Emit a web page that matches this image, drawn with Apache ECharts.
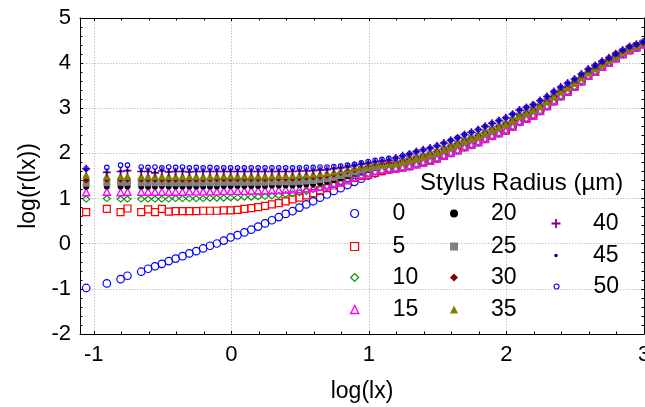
<!DOCTYPE html>
<html><head><meta charset="utf-8">
<script src="https://cdn.jsdelivr.net/npm/echarts@6/dist/echarts.min.js"></script>
<style>html,body{margin:0;padding:0;background:#fff}#c{width:645px;height:407px}</style>
</head><body><div id="c"></div>
<script>
// x values: log(lx)
const logLx = [-1.055,-0.905,-0.805,-0.755,-0.655,-0.605,-0.555,-0.505,-0.455,-0.405,-0.355,-0.305,-0.255,-0.205,-0.155,-0.105,-0.055,-0.005,0.045,0.095,0.145,0.195,0.245,0.295,0.345,0.395,0.445,0.495,0.545,0.595,0.645,0.695,0.745,0.795,0.845,0.895,0.945,0.995,1.045,1.095,1.145,1.195,1.245,1.295,1.345,1.395,1.445,1.495,1.545,1.595,1.645,1.695,1.745,1.795,1.845,1.895,1.945,1.995,2.045,2.095,2.145,2.195,2.245,2.295,2.345,2.395,2.445,2.495,2.545,2.595,2.645,2.695,2.745,2.795,2.845,2.895,2.945,2.995];

const radii = ['0','5','10','15','20','25','30','35','40','45','50'];

// log(r(lx)) for lx up to 1.145, per stylus radius
const r0  = [-0.98,-0.88,-0.785,-0.71,-0.62,-0.555,-0.50,-0.445,-0.385,-0.33,-0.275,-0.215,-0.165,-0.105,-0.045,0.005,0.07,0.14,0.19,0.25,0.31,0.38,0.45,0.52,0.59,0.66,0.72,0.80,0.87,0.94,1.02,1.09,1.17,1.23,1.30,1.37,1.44,1.51,1.56,1.61,1.65];
const r5  = [0.70,0.77,0.70,0.78,0.70,0.76,0.70,0.77,0.71,0.72,0.72,0.72,0.72,0.73,0.73,0.73,0.74,0.74,0.75,0.77,0.79,0.81,0.84,0.87,0.90,0.94,0.98,1.02,1.07,1.12,1.18,1.23,1.29,1.35,1.40,1.46,1.50,1.53,1.57,1.61,1.64];
const r10 = [0.99,1.00,0.99,0.99,0.99,0.99,0.99,0.99,0.99,1.00,1.00,1.00,1.00,1.00,1.01,1.01,1.01,1.02,1.02,1.03,1.03,1.04,1.05,1.06,1.07,1.09,1.11,1.13,1.16,1.20,1.24,1.28,1.32,1.37,1.42,1.46,1.51,1.55,1.59,1.62,1.65];
const r15 = [1.14,1.15,1.14,1.15,1.15,1.15,1.15,1.15,1.15,1.15,1.15,1.16,1.16,1.16,1.16,1.16,1.17,1.17,1.17,1.17,1.18,1.18,1.18,1.19,1.19,1.20,1.20,1.21,1.22,1.24,1.26,1.29,1.33,1.37,1.42,1.47,1.52,1.57,1.61,1.64,1.66];
const r20 = [1.26,1.27,1.27,1.27,1.27,1.26,1.27,1.28,1.27,1.27,1.27,1.27,1.27,1.27,1.27,1.27,1.28,1.28,1.28,1.28,1.28,1.28,1.28,1.29,1.29,1.29,1.29,1.30,1.31,1.32,1.34,1.37,1.41,1.45,1.50,1.55,1.60,1.64,1.68,1.72,1.75];
const r25 = [1.34,1.35,1.36,1.36,1.35,1.35,1.35,1.35,1.35,1.35,1.35,1.35,1.35,1.35,1.35,1.35,1.36,1.36,1.36,1.36,1.36,1.36,1.36,1.37,1.37,1.37,1.37,1.38,1.39,1.40,1.42,1.44,1.47,1.51,1.55,1.59,1.63,1.67,1.70,1.73,1.76];
const r30 = [1.41,1.43,1.43,1.43,1.43,1.43,1.43,1.43,1.42,1.43,1.43,1.43,1.43,1.43,1.44,1.44,1.44,1.44,1.44,1.44,1.44,1.44,1.44,1.45,1.45,1.45,1.45,1.46,1.47,1.48,1.49,1.51,1.54,1.57,1.61,1.64,1.68,1.71,1.74,1.76,1.78];
const r35 = [1.53,1.50,1.50,1.50,1.50,1.50,1.50,1.50,1.50,1.50,1.50,1.50,1.50,1.50,1.50,1.51,1.51,1.51,1.51,1.51,1.51,1.51,1.51,1.51,1.52,1.52,1.52,1.53,1.54,1.55,1.56,1.58,1.60,1.63,1.66,1.69,1.71,1.73,1.75,1.76,1.77];
const r40 = [1.66,1.58,1.60,1.62,1.60,1.60,1.57,1.61,1.59,1.60,1.60,1.59,1.60,1.60,1.60,1.60,1.60,1.60,1.60,1.60,1.60,1.60,1.60,1.60,1.60,1.60,1.60,1.61,1.61,1.62,1.63,1.64,1.66,1.68,1.70,1.73,1.76,1.78,1.81,1.83,1.85];
const r45 = [1.64,1.59,1.61,1.62,1.61,1.61,1.59,1.62,1.60,1.61,1.61,1.60,1.61,1.61,1.61,1.61,1.61,1.61,1.61,1.61,1.61,1.61,1.61,1.61,1.61,1.61,1.62,1.62,1.63,1.63,1.64,1.65,1.67,1.69,1.72,1.75,1.78,1.80,1.83,1.85,1.87];
const r50 = [1.66,1.69,1.74,1.74,1.70,1.69,1.70,1.68,1.70,1.69,1.70,1.68,1.69,1.68,1.69,1.68,1.68,1.68,1.68,1.68,1.68,1.68,1.68,1.68,1.68,1.68,1.68,1.68,1.69,1.69,1.70,1.70,1.71,1.72,1.74,1.76,1.79,1.82,1.85,1.87,1.89];

// log(r(lx)) for lx from 1.195 on (bands of the converged curves)
const tailLow  = [1.67,1.69,1.72,1.76,1.80,1.84,1.89,1.95,2.01,2.07,2.14,2.19,2.25,2.32,2.39,2.45,2.51,2.60,2.70,2.77,2.84,2.94,3.05,3.16,3.27,3.37,3.48,3.60,3.72,3.81,3.92,4.01,4.11,4.20,4.29,4.35,4.42];
const tailMid  = [1.78,1.82,1.86,1.90,1.94,1.98,2.03,2.09,2.15,2.21,2.28,2.33,2.39,2.46,2.53,2.59,2.65,2.73,2.83,2.89,2.96,3.05,3.15,3.26,3.37,3.46,3.56,3.68,3.79,3.88,3.98,4.07,4.16,4.25,4.33,4.39,4.45];
const tailHigh = [1.90,1.95,1.99,2.04,2.08,2.12,2.17,2.23,2.29,2.35,2.42,2.47,2.53,2.60,2.67,2.73,2.79,2.87,2.96,3.02,3.08,3.17,3.26,3.37,3.47,3.56,3.65,3.76,3.87,3.95,4.04,4.12,4.21,4.29,4.37,4.42,4.47];

const heads = [r0,r5,r10,r15,r20,r25,r30,r35,r40,r45,r50];
const tails = [tailLow,tailLow,tailLow,tailLow,tailMid,tailMid,tailMid,tailMid,tailHigh,tailHigh,tailHigh];

const FONT = "'Liberation Sans', Arial, sans-serif";
const PLUS = 'path://M3.6,0H5.4V3.6H9V5.4H5.4V9H3.6V5.4H0V3.6H3.6Z';
const T = 'rgba(0,0,0,0)';
const styles = [
  {symbol:'circle',  size:7.5, fill:T,         stroke:'#0000ff', bw:1.2, leg:8},
  {symbol:'rect',    size:7,   fill:T,         stroke:'#ff0000', bw:1.2, leg:8},
  {symbol:'diamond', size:[7,6], fill:T,       stroke:'#109010', bw:1.2, leg:8},
  {symbol:'triangle',size:7,   fill:T,         stroke:'#ff00ff', bw:1.4, leg:8},
  {symbol:'circle',  size:6,   fill:'#000000', stroke:'#000000', bw:0,   leg:8},
  {symbol:'rect',    size:7,   fill:'#808080', stroke:'#808080', bw:0,   leg:8},
  {symbol:'diamond', size:7,   fill:'#800000', stroke:'#800000', bw:0,   leg:8},
  {symbol:'triangle',size:8,   fill:'#808000', stroke:'#808000', bw:0,   leg:8},
  {symbol:PLUS,      size:8,   fill:'#800080', stroke:'#800080', bw:0,   leg:9},
  {symbol:'circle',  size:3,   fill:'#000080', stroke:'#000080', bw:0,   leg:3.5},
  {symbol:'circle',  size:4.5, fill:T,         stroke:'#0000ff', bw:1.1, leg:5}
];

const series = radii.map((name, i) => {
  const ys = heads[i].concat(tails[i]);
  const st = styles[i];
  return {
    type: 'scatter', name: name,
    symbol: st.symbol, symbolSize: st.size,
    itemStyle: {color: st.fill, borderColor: st.stroke, borderWidth: st.bw, opacity: 1},
    emphasis: {disabled: true},
    silent: true,
    data: logLx.map((x, j) => [x, ys[j]])
  };
});

// legend layout: three columns [icon centre x, text left x, top]
const legPos = [
  [354,392,202],[354,392,235],[354,392,266],[354,392,298],
  [454,491,202],[454,491,235],[454,491,266],[454,491,298],
  [556,593,212],[556,593,244],[556,593,275]
];
const legends = radii.map((name, i) => {
  const st = styles[i];
  const p = legPos[i];
  const left = p[0] - st.leg / 2;
  const pad = p[1] - (left + st.leg + 5);
  return {
    left: left, top: p[2], padding: 0,
    orient: 'vertical', selectedMode: false,
    itemWidth: st.leg, itemHeight: st.leg,
    textStyle: {fontSize: 23, color: '#000', fontFamily: FONT, padding: [0, 0, 0, pad]},
    data: [{name: name, icon: st.symbol,
      itemStyle: {color: st.fill, borderColor: st.stroke, borderWidth: st.bw}}]
  };
});

const gridLine = {show: true, lineStyle: {color: '#c4c4c4', type: [1.5, 1.5], width: 1}};
const axisLine = {show: true, onZero: false, lineStyle: {color: '#000', width: 1}};
const tick = {show: true, inside: true, length: 3, lineStyle: {color: '#000'}};
const minor = {show: true, splitNumber: 5, length: 2.5, lineStyle: {color: '#000'}};
const lbl = {fontSize: 22, color: '#000', fontFamily: FONT};

const chart = echarts.init(document.getElementById('c'), null, {renderer: 'canvas'});
chart.setOption({
  animation: false,
  backgroundColor: '#fff',
  title: {text: 'Stylus Radius (\u00b5m)', left: 420, top: 171, padding: 0,
    textStyle: {fontSize: 24, fontWeight: 'normal', color: '#000', fontFamily: FONT}},
  legend: legends,
  grid: {left: 80, right: 1, top: 18, bottom: 73, containLabel: false, outerBoundsMode: 'none'},
  xAxis: [
    {type: 'value', position: 'bottom', min: -1.1, max: 3, splitNumber: 4,
     name: 'log(lx)', nameLocation: 'middle', nameGap: 46,
     nameTextStyle: {fontSize: 23, color: '#000', fontFamily: FONT},
     axisLine: axisLine, axisTick: tick, minorTick: minor, splitLine: gridLine,
     axisLabel: Object.assign({margin: 10, showMinLabel: false, alignMaxLabel: 'center',
       formatter: v => (Math.abs(v - Math.round(v)) < 1e-9 ? String(Math.round(v)) : '')}, lbl)},
    {type: 'value', position: 'top', min: -1.1, max: 3, splitNumber: 4,
     axisLine: axisLine, axisTick: tick, minorTick: minor, splitLine: {show: false},
     axisLabel: {show: false}}
  ],
  yAxis: [
    {type: 'value', position: 'left', min: -2, max: 5, interval: 1,
     name: 'log(r(lx))', nameLocation: 'middle', nameGap: 39,
     nameTextStyle: {fontSize: 23, color: '#000', fontFamily: FONT, padding: [0, 20, 0, 0]},
     axisLine: axisLine, axisTick: tick, minorTick: minor, splitLine: gridLine,
     axisLabel: Object.assign({margin: 9}, lbl)},
    {type: 'value', position: 'right', min: -2, max: 5, interval: 1,
     axisLine: axisLine, axisTick: tick, minorTick: minor, splitLine: {show: false},
     axisLabel: {show: false}}
  ],
  series: series
});
</script></body></html>
